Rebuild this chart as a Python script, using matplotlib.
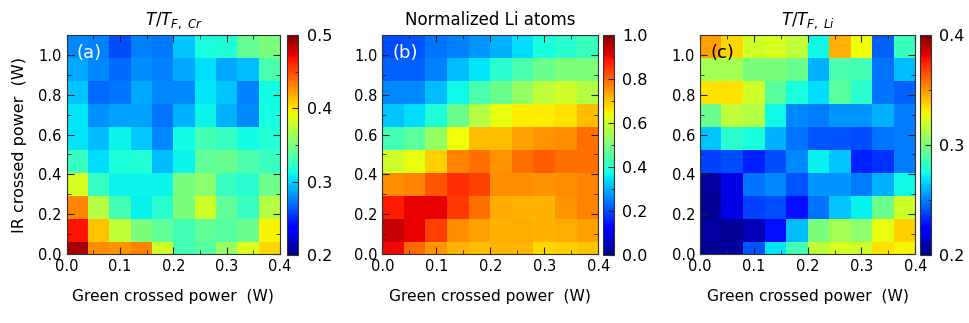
import numpy as np
import matplotlib
matplotlib.use("Agg")
import matplotlib.pyplot as plt
from matplotlib.ticker import MultipleLocator

# -------------------------------
# DATOS (filas: IR de abajo hacia arriba, columnas: green)
# -------------------------------
green_power = [0.02, 0.06, 0.10, 0.14, 0.18, 0.22, 0.26, 0.30, 0.34, 0.38]
ir_power = [0.0, 0.116, 0.232, 0.348, 0.464, 0.58, 0.696, 0.812, 0.928, 1.044]

t_cr = [
    [0.490, 0.428, 0.425, 0.432, 0.380, 0.330, 0.337, 0.360, 0.385, 0.405],
    [0.467, 0.410, 0.375, 0.350, 0.340, 0.330, 0.340, 0.336, 0.343, 0.395],
    [0.430, 0.370, 0.330, 0.308, 0.320, 0.350, 0.380, 0.340, 0.325, 0.370],
    [0.383, 0.325, 0.310, 0.310, 0.310, 0.350, 0.355, 0.325, 0.320, 0.345],
    [0.325, 0.302, 0.315, 0.318, 0.293, 0.310, 0.340, 0.342, 0.333, 0.325],
    [0.305, 0.293, 0.310, 0.297, 0.278, 0.312, 0.330, 0.325, 0.312, 0.318],
    [0.305, 0.280, 0.285, 0.285, 0.272, 0.290, 0.310, 0.290, 0.278, 0.313],
    [0.296, 0.268, 0.272, 0.287, 0.278, 0.278, 0.305, 0.296, 0.275, 0.312],
    [0.287, 0.278, 0.268, 0.279, 0.275, 0.287, 0.302, 0.287, 0.293, 0.332],
    [0.278, 0.275, 0.260, 0.275, 0.273, 0.296, 0.314, 0.317, 0.341, 0.350],
]

li_atoms = [
    [0.90, 0.80, 0.75, 0.72, 0.71, 0.72, 0.72, 0.68, 0.69, 0.70],
    [0.94, 0.91, 0.84, 0.76, 0.74, 0.72, 0.73, 0.72, 0.73, 0.74],
    [0.88, 0.91, 0.91, 0.85, 0.79, 0.73, 0.72, 0.72, 0.75, 0.77],
    [0.76, 0.77, 0.82, 0.86, 0.84, 0.76, 0.76, 0.75, 0.76, 0.77],
    [0.60, 0.63, 0.69, 0.77, 0.79, 0.75, 0.79, 0.81, 0.79, 0.79],
    [0.43, 0.46, 0.53, 0.64, 0.71, 0.71, 0.74, 0.75, 0.76, 0.79],
    [0.32, 0.34, 0.39, 0.48, 0.57, 0.63, 0.66, 0.66, 0.67, 0.71],
    [0.26, 0.26, 0.31, 0.37, 0.44, 0.48, 0.53, 0.58, 0.60, 0.57],
    [0.22, 0.22, 0.25, 0.31, 0.35, 0.40, 0.44, 0.48, 0.50, 0.50],
    [0.20, 0.21, 0.24, 0.25, 0.27, 0.30, 0.34, 0.38, 0.40, 0.42],
]

t_li = [
    [0.204, 0.206, 0.242, 0.270, 0.286, 0.316, 0.322, 0.320, 0.334, 0.330],
    [0.206, 0.204, 0.210, 0.228, 0.262, 0.300, 0.310, 0.304, 0.326, 0.338],
    [0.204, 0.218, 0.238, 0.240, 0.228, 0.248, 0.264, 0.272, 0.296, 0.320],
    [0.206, 0.218, 0.248, 0.252, 0.242, 0.254, 0.254, 0.250, 0.260, 0.274],
    [0.238, 0.240, 0.232, 0.240, 0.252, 0.272, 0.264, 0.232, 0.235, 0.250],
    [0.264, 0.280, 0.276, 0.260, 0.248, 0.242, 0.242, 0.240, 0.248, 0.250],
    [0.296, 0.316, 0.314, 0.274, 0.252, 0.250, 0.254, 0.254, 0.260, 0.250],
    [0.334, 0.334, 0.320, 0.292, 0.276, 0.268, 0.292, 0.280, 0.248, 0.244],
    [0.310, 0.310, 0.300, 0.300, 0.296, 0.260, 0.288, 0.286, 0.248, 0.262],
    [0.348, 0.336, 0.320, 0.322, 0.316, 0.274, 0.344, 0.328, 0.244, 0.284],
]

# -------------------------------
# CONFIGURACIÓN DE PANELES
# -------------------------------
panels = [
    dict(z=t_cr, vmin=0.2, vmax=0.5, title=r"$T/T_{F,\ Cr}$", tag="(a)", tag_color="white",
         ax_rect=[0.0688, 0.2136, 0.220, 0.678], cb_rect=[0.2962, 0.2105, 0.0113, 0.681],
         cb_major=0.1, cb_minor=0.05),
    dict(z=li_atoms, vmin=0.0, vmax=1.0, title="Normalized Li atoms", tag="(b)", tag_color="white",
         ax_rect=[0.3941, 0.2136, 0.2227, 0.678], cb_rect=[0.6220, 0.2105, 0.0105, 0.681],
         cb_major=0.2, cb_minor=0.1),
    dict(z=t_li, vmin=0.2, vmax=0.4, title=r"$T/T_{F,\ Li}$", tag="(c)", tag_color="black",
         ax_rect=[0.7216, 0.2136, 0.2220, 0.678], cb_rect=[0.9485, 0.2105, 0.0113, 0.681],
         cb_major=0.1, cb_minor=0.05),
]

plt.rcParams["font.family"] = "DejaVu Sans"
plt.rcParams["font.size"] = 10.5

fig = plt.figure(figsize=(9.7, 3.23), dpi=100)

for i, p in enumerate(panels):
    ax = fig.add_axes(p["ax_rect"])
    mesh = ax.pcolormesh(green_power, ir_power, np.array(p["z"]), cmap="jet",
                         vmin=p["vmin"], vmax=p["vmax"], shading="nearest")
    ax.set_xlim(0, 0.4)
    ax.set_ylim(0, 1.1)
    ax.xaxis.set_major_locator(MultipleLocator(0.1))
    ax.xaxis.set_minor_locator(MultipleLocator(0.05))
    ax.yaxis.set_major_locator(MultipleLocator(0.2))
    ax.yaxis.set_minor_locator(MultipleLocator(0.1))
    ax.tick_params(which="both", direction="in", top=True, right=True, color="#222222")
    ax.tick_params(which="major", length=5, labelsize=10.5)
    ax.tick_params(which="minor", length=3)
    ax.xaxis.set_major_formatter(plt.FormatStrFormatter("%.1f"))
    ax.yaxis.set_major_formatter(plt.FormatStrFormatter("%.1f"))
    ax.set_xlabel("Green crossed power  (W)", fontsize=11.2, labelpad=11)
    if i == 0:
        ax.set_ylabel("IR crossed power  (W)", fontsize=11.5, labelpad=8)
    ax.set_title(p["title"], fontsize=12, pad=7)
    ax.text(0.019, 1.01, p["tag"], color=p["tag_color"], fontsize=13, va="center", ha="left")
    for s in ax.spines.values():
        s.set_color("#333333")

    cax = fig.add_axes(p["cb_rect"])
    cb = fig.colorbar(mesh, cax=cax)
    cb.set_ticks(np.arange(p["vmin"], p["vmax"] + 1e-9, p["cb_major"]))
    cb.ax.yaxis.set_minor_locator(MultipleLocator(p["cb_minor"]))
    cb.ax.yaxis.set_major_formatter(plt.FormatStrFormatter("%.1f"))
    cb.ax.tick_params(which="both", direction="in", color="#222222")
    cb.ax.tick_params(which="major", length=4, labelsize=11.5, pad=6)
    cb.ax.tick_params(which="minor", length=2)
    cb.outline.set_edgecolor("#333333")

plt.savefig("out.png", dpi=100)
